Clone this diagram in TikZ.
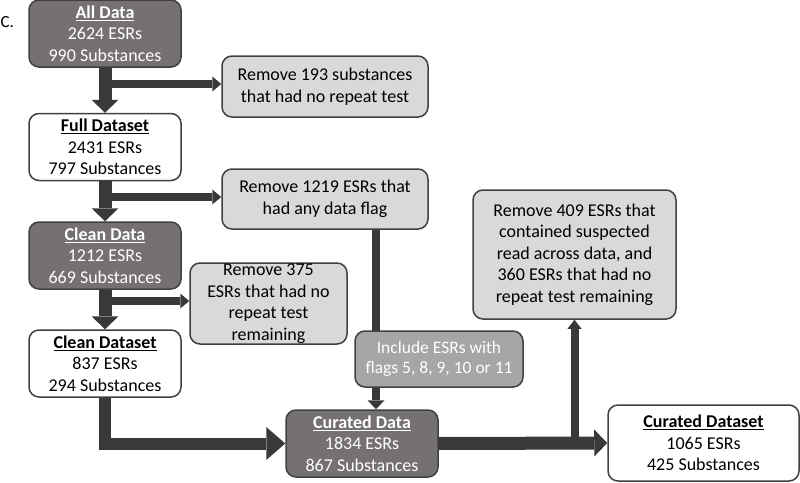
\documentclass[tikz,border=0pt]{standalone}
\usepackage{fontspec}
\setmainfont{Carlito}
\usetikzlibrary{arrows.meta,backgrounds}

\definecolor{darkbox}{HTML}{767171}
\definecolor{arrowgray}{HTML}{3B3838}
\definecolor{lightbox}{HTML}{D9D9D9}
\definecolor{midbox}{HTML}{A6A6A6}
\definecolor{edgegray}{HTML}{404040}

\newcommand{\boxtitle}[1]{\underline{\textbf{#1}}}

\begin{document}
\begin{tikzpicture}[
  x=1pt, y=-1pt,
  box/.style={draw=edgegray, line width=1.5pt, rounded corners=10pt, align=center,
    inner sep=0pt, font=\fontsize{18}{21.5}\selectfont},
  dark/.style={box, fill=darkbox, text=white, minimum width=152pt, minimum height=67pt},
  plain/.style={box, fill=white, minimum width=152pt, minimum height=67pt},
  note/.style={box, fill=lightbox},
  incl/.style={box, fill=midbox, text=white, font=\fontsize{17.5}{20.5}\selectfont},
  bigarr/.style={draw=arrowgray, line width=13pt,
    -{Triangle[width=27pt, length=13pt, line width=0pt]}},
  turnarr/.style={draw=arrowgray, line width=12pt,
    -{Triangle[width=33pt, length=19pt, line width=0pt]}},
  sidearr/.style={draw=arrowgray, line width=8pt,
    -{Triangle[width=15pt, length=9pt, line width=0pt]}}
]
\useasboundingbox (0,0) rectangle (800,482);

\node [anchor=west, font=\fontsize{17}{17}\selectfont] (panel) at (-3,22) {C.};

% left column
\node [dark] (alldata) at (105,33.5) {\boxtitle{All Data}\\2624 ESRs\\990 Substances};
\node [plain] (fullset) at (105,147) {\boxtitle{Full Dataset}\\2431 ESRs\\797 Substances};
\node [dark] (cleandata) at (105,255.5) {\boxtitle{Clean Data}\\1212 ESRs\\669 Substances};
\node [plain] (cleanset) at (105,363.5) {\boxtitle{Clean Dataset}\\837 ESRs\\294 Substances};

% removal steps
\node [note, minimum width=206pt, minimum height=61pt] (rm193) at (325,86.5)
  {Remove 193 substances\\that had no repeat test};
\node [note, minimum width=206pt, minimum height=60pt] (rm1219) at (325,199)
  {Remove 1219 ESRs that\\had any data flag};
\node [note, minimum width=157pt, minimum height=81pt] (rm375) at (268.5,303.5)
  {Remove 375\\ESRs that had no\\repeat test\\remaining};
\node [note, minimum width=203pt, minimum height=129pt] (rm409) at (574.5,254.5)
  {Remove 409 ESRs that\\contained suspected\\read across data, and\\360 ESRs that had no\\repeat test remaining};

% curated
\node [incl, minimum width=168pt, minimum height=56pt] (incl) at (439,359)
  {Include ESRs with\\flags 5, 8, 9, 10 or 11};
\node [dark] (curdata) at (362,443.5) {\boxtitle{Curated Data}\\1834 ESRs\\867 Substances};
\node [plain, minimum width=191pt, minimum height=76pt] (curset) at (703.5,443)
  {\boxtitle{Curated Dataset}\\1065 ESRs\\425 Substances};

\coordinate (split1) at (104,84);
\coordinate (split2) at (104,197);
\coordinate (split3) at (104,301);
\coordinate (split4) at (574.5,443);
\coordinate (drop) at (376,0);

\draw [sidearr] (split1) -- (split1 -| rm193.west);
\draw [sidearr] (split2) -- (split2 -| rm1219.west);
\draw [sidearr] (split3) -- (split3 -| rm375.west);
\draw [bigarr] (alldata.south) -- (fullset.north);
\draw [bigarr] (fullset.south) -- (cleandata.north);
\draw [bigarr] (cleandata.south) -- (cleanset.north);
\draw [turnarr] (cleanset.south) |- (curdata.west);
\draw [sidearr, -{Triangle[width=14pt, length=9pt, line width=0pt]}] (split4) -- (rm409.south);
\draw [bigarr] (curdata.east) -- (curset.west);
\begin{pgfonlayer}{background}
\draw [sidearr, -{Triangle[width=17pt, length=9pt, line width=0pt]}]
  (rm1219.south -| drop) -- (curdata.north -| drop);
\end{pgfonlayer}
\end{tikzpicture}
\end{document}
